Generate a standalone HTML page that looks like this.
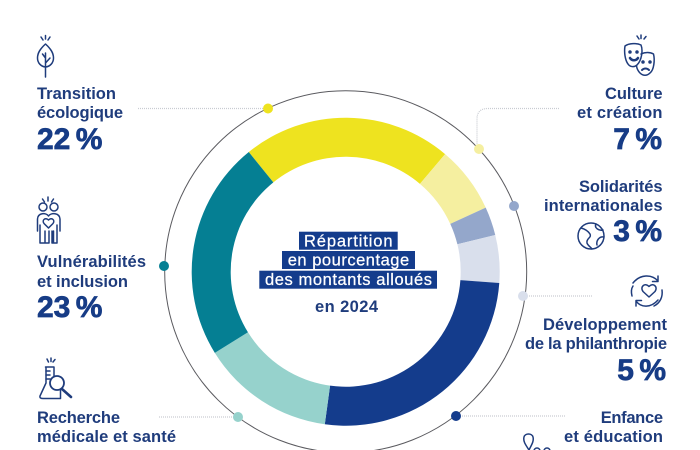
<!DOCTYPE html>
<html lang="fr">
<head>
<meta charset="utf-8">
<title>Répartition en pourcentage des montants alloués en 2024</title>
<style>
html,body{margin:0;padding:0;background:#fff;width:700px;height:450px;overflow:hidden}
svg{display:block}
text{font-family:"Liberation Sans",sans-serif;fill:#1f3c7c}
.lab{font-size:16.5px;font-weight:700}
.pct{font-size:30px;font-weight:700;fill:#173c86;stroke:#173c86;stroke-width:.7;word-spacing:-3px}
.ctr{font-size:16.5px;fill:#fff;stroke:#fff;stroke-width:.25}
.ic{fill:none;stroke:#1f3c7c;stroke-width:1.5;stroke-linecap:round;stroke-linejoin:round}
.lead{fill:none;stroke:#c9ccd2;stroke-width:1.2;stroke-dasharray:1 1}
</style>
</head>
<body>
<svg id="chart" width="700" height="450" viewBox="0 0 700 450" xmlns="http://www.w3.org/2000/svg">
  <circle cx="345.7" cy="271.7" r="181" fill="none" stroke="#5a5a5f" stroke-width="1"/>
  <g id="slices"></g>

  <g>
    <path class="lead" d="M138 108.500H268"/>
    <path class="lead" d="M559 108.500H488Q477 108.500 477 119V149"/>
    <path class="lead" d="M523 296H593"/>
    <path class="lead" d="M456 416H565"/>
    <path class="lead" d="M159 417H238"/>
  </g>
  <g>
    <circle cx="268" cy="108.500" r="5" fill="#eee31f"/>
    <circle cx="479" cy="149" r="5" fill="#f5efa0"/>
    <circle cx="514" cy="206" r="5" fill="#94a7cb"/>
    <circle cx="523" cy="296" r="5" fill="#d9dfec"/>
    <circle cx="456" cy="416" r="5" fill="#143c8c"/>
    <circle cx="238" cy="417" r="5" fill="#96d2cc"/>
    <circle cx="164" cy="266" r="5" fill="#057f93"/>
  </g>

  <g>
    <rect x="299" y="231.700" width="98.700" height="18" fill="#143c8c"/>
    <rect x="282" y="251" width="133" height="18" fill="#143c8c"/>
    <rect x="259.300" y="270.700" width="177.700" height="18" fill="#143c8c"/>
    <text class="ctr" x="304" y="246.500" textLength="88.500" lengthAdjust="spacing">Répartition</text>
    <text class="ctr" x="287.700" y="265.500" textLength="121.500" lengthAdjust="spacing">en pourcentage</text>
    <text class="ctr" x="265" y="285" textLength="167" lengthAdjust="spacing">des montants alloués</text>
    <text class="lab" x="315" y="312" textLength="63" lengthAdjust="spacing">en 2024</text>
  </g>

  <g>
    <text class="lab" x="37" y="99" textLength="79" lengthAdjust="spacing">Transition</text>
    <text class="lab" x="37" y="118" textLength="86" lengthAdjust="spacing">écologique</text>
    <text class="pct" id="p0" x="37" y="149"></text>
  </g>
  <g>
    <text class="lab" x="37" y="267" textLength="109" lengthAdjust="spacing">Vulnérabilités</text>
    <text class="lab" x="37" y="287" textLength="91" lengthAdjust="spacing">et inclusion</text>
    <text class="pct" id="p6" x="37" y="317"></text>
  </g>
  <g>
    <text class="lab" x="37" y="423" textLength="83" lengthAdjust="spacing">Recherche</text>
    <text class="lab" x="37" y="442" textLength="139" lengthAdjust="spacing">médicale et santé</text>
  </g>
  <g>
    <text class="lab" x="605" y="99" textLength="57.500" lengthAdjust="spacing">Culture</text>
    <text class="lab" x="577" y="118" textLength="85.500" lengthAdjust="spacing">et création</text>
    <text class="pct" id="p1" x="662" y="149" text-anchor="end"></text>
  </g>
  <g>
    <text class="lab" x="579" y="192" textLength="83.500" lengthAdjust="spacing">Solidarités</text>
    <text class="lab" x="544" y="211" textLength="118.500" lengthAdjust="spacing">internationales</text>
    <text class="pct" id="p2" x="662" y="241" text-anchor="end"></text>
  </g>
  <g>
    <text class="lab" x="543" y="330" textLength="124" lengthAdjust="spacing">Développement</text>
    <text class="lab" x="525" y="349" textLength="142" lengthAdjust="spacing">de la philanthropie</text>
    <text class="pct" id="p3" x="666" y="380" text-anchor="end"></text>
  </g>
  <g>
    <text class="lab" x="600.700" y="423" textLength="62.300" lengthAdjust="spacing">Enfance</text>
    <text class="lab" x="564" y="442" textLength="99" lengthAdjust="spacing">et éducation</text>
  </g>

  <g class="ic">
    <path d="M45.500 44C40 49 37.500 53 37.500 58C37.500 63 41 66.500 45.500 67C50 66.500 53.500 63 53.500 58C53.500 53 51 49 45.500 44Z"/>
    <path d="M45.500 53V77M45.500 63L50 58M45.500 58L42.500 54"/>
    <path d="M41 37L43 40M45.500 35.500V39M50 37L48 40"/>
  </g>
  <g class="ic">
    <path d="M42.500 199L44.500 202M48 197V201M53.500 199L51.500 202"/>
    <circle cx="43" cy="207" r="4"/><circle cx="54" cy="207" r="4"/>
    <path d="M48.500 216C46 212.500 38 212.500 37.500 219V231M48.500 216C51 212.500 59.500 212.500 60 219V231"/>
    <path d="M48.500 231L44 226.500C41.500 223 45.500 220 48.500 223C51.500 220 55.500 223 53 226.500Z" transform="translate(0 -3)"/>
    <path d="M40 225V243H45V231M49 231V243H45M52 231V243H57V225M53.500 243V231"/>
  </g>
  <g class="ic">
    <path d="M47 359L48.500 362M51 358V361.500M55 359.500L53 362"/>
    <path d="M45.500 367H54V376M46 367V383L40 396C39.500 398 41 398.500 43 398.500H60.500V390"/>
    <path d="M46 371H50M46 375H50M46 379H50"/>
    <circle cx="57" cy="383" r="7" stroke-width="1.800"/>
    <path d="M62 389L71 397" stroke-width="2.600"/>
  </g>
  <g class="ic">
    <path d="M637 36L639 39M641 35V38.500M646 36.500L644 39"/>
    <path d="M625 46C629 43 637 43 641 45C643 50 642 60 637 65C634 67.500 630 67 628 64C625 60 624 52 625 46Z"/>
    <path d="M641 54C645 52 650 52 653.500 54C655 60 654 70 650 73C647 76 643 76 640 73C638 71 637 69 636.500 66"/>
    <path d="M630 58C632 61 636 61 638 58" stroke-width="2.500"/>
    <path d="M642 70C644 68 647 68 649 70" stroke-width="2"/>
    <circle cx="630" cy="52" r="1" fill="#1f3c7c"/><circle cx="637" cy="52" r="1" fill="#1f3c7c"/>
    <circle cx="643" cy="62" r="1" fill="#1f3c7c"/><circle cx="650" cy="62" r="1" fill="#1f3c7c"/>
  </g>
  <g class="ic">
    <circle cx="591" cy="236" r="13"/>
    <path d="M581 228C585 229 588 231 590 234C592 238 586 238 587 243C588 246 591 247 592 249"/>
    <path d="M596 224C594 228 599 231 603 230M597 245C596 241 599 236 604 237"/>
  </g>
  <g class="ic">
    <path d="M633 283C640 274 652 274 658 281M658 276V281.500H652.500"/>
    <path d="M662 290C663 297 660 303 654 306"/>
    <path d="M658 300C651 308 641 308 636 301M636 306V300.500H641.500"/>
    <path d="M632 296C631 292 631 289 633 286"/>
    <path d="M649 298L643 292.500C639.500 288 645 283 649 287.500C653 283 658.500 288 655 292.500Z" transform="translate(0 -1)"/>
  </g>
  <g class="ic">
    <path d="M529 450C525 444 523 441 524 437C525 433 532 433 533 437C534 441 532 444 529 450Z"/>
    <circle cx="537" cy="451" r="3"/><circle cx="547" cy="451" r="3"/>
  </g>
</svg>
<script>
var categories = ["Transition écologique", "Culture et création", "Solidarités internationales", "Développement de la philanthropie", "Enfance et éducation", "Recherche médicale et santé", "Vulnérabilités et inclusion"];
var values = [22, 7, 3, 5, 26, 14, 23];
var colors = ["#eee31f", "#f5efa0", "#94a7cb", "#d9dfec", "#143c8c", "#96d2cc", "#057f93"];
var startAngle = -39;

var cx = 345.7, cy = 271.7, rOuter = 154, rInner = 115;
var total = values.reduce(function (a, b) { return a + b; }, 0);
function angleScale(v) { return v / total * 360; }
function pt(r, deg) {
  var a = deg * Math.PI / 180;
  return (cx + r * Math.sin(a)).toFixed(2) + " " + (cy - r * Math.cos(a)).toFixed(2);
}
var group = document.getElementById("slices");
var acc = startAngle;
values.forEach(function (v, i) {
  var a0 = acc, a1 = acc + angleScale(v);
  acc = a1;
  var large = a1 - a0 > 180 ? 1 : 0;
  var el = document.createElementNS("http://www.w3.org/2000/svg", "path");
  el.setAttribute("d", "M" + pt(rOuter, a0) + "A" + rOuter + " " + rOuter + " 0 " + large + " 1 " + pt(rOuter, a1) +
    "L" + pt(rInner, a1) + "A" + rInner + " " + rInner + " 0 " + large + " 0 " + pt(rInner, a0) + "Z");
  el.setAttribute("fill", colors[i]);
  
  
  var t = document.createElementNS("http://www.w3.org/2000/svg", "title");
  t.textContent = categories[i] + " " + v + " %";
  el.appendChild(t);
  group.appendChild(el);
  var label = document.getElementById("p" + i);
  if (label) { label.textContent = v + " %"; }
});
</script>
</body>
</html>
